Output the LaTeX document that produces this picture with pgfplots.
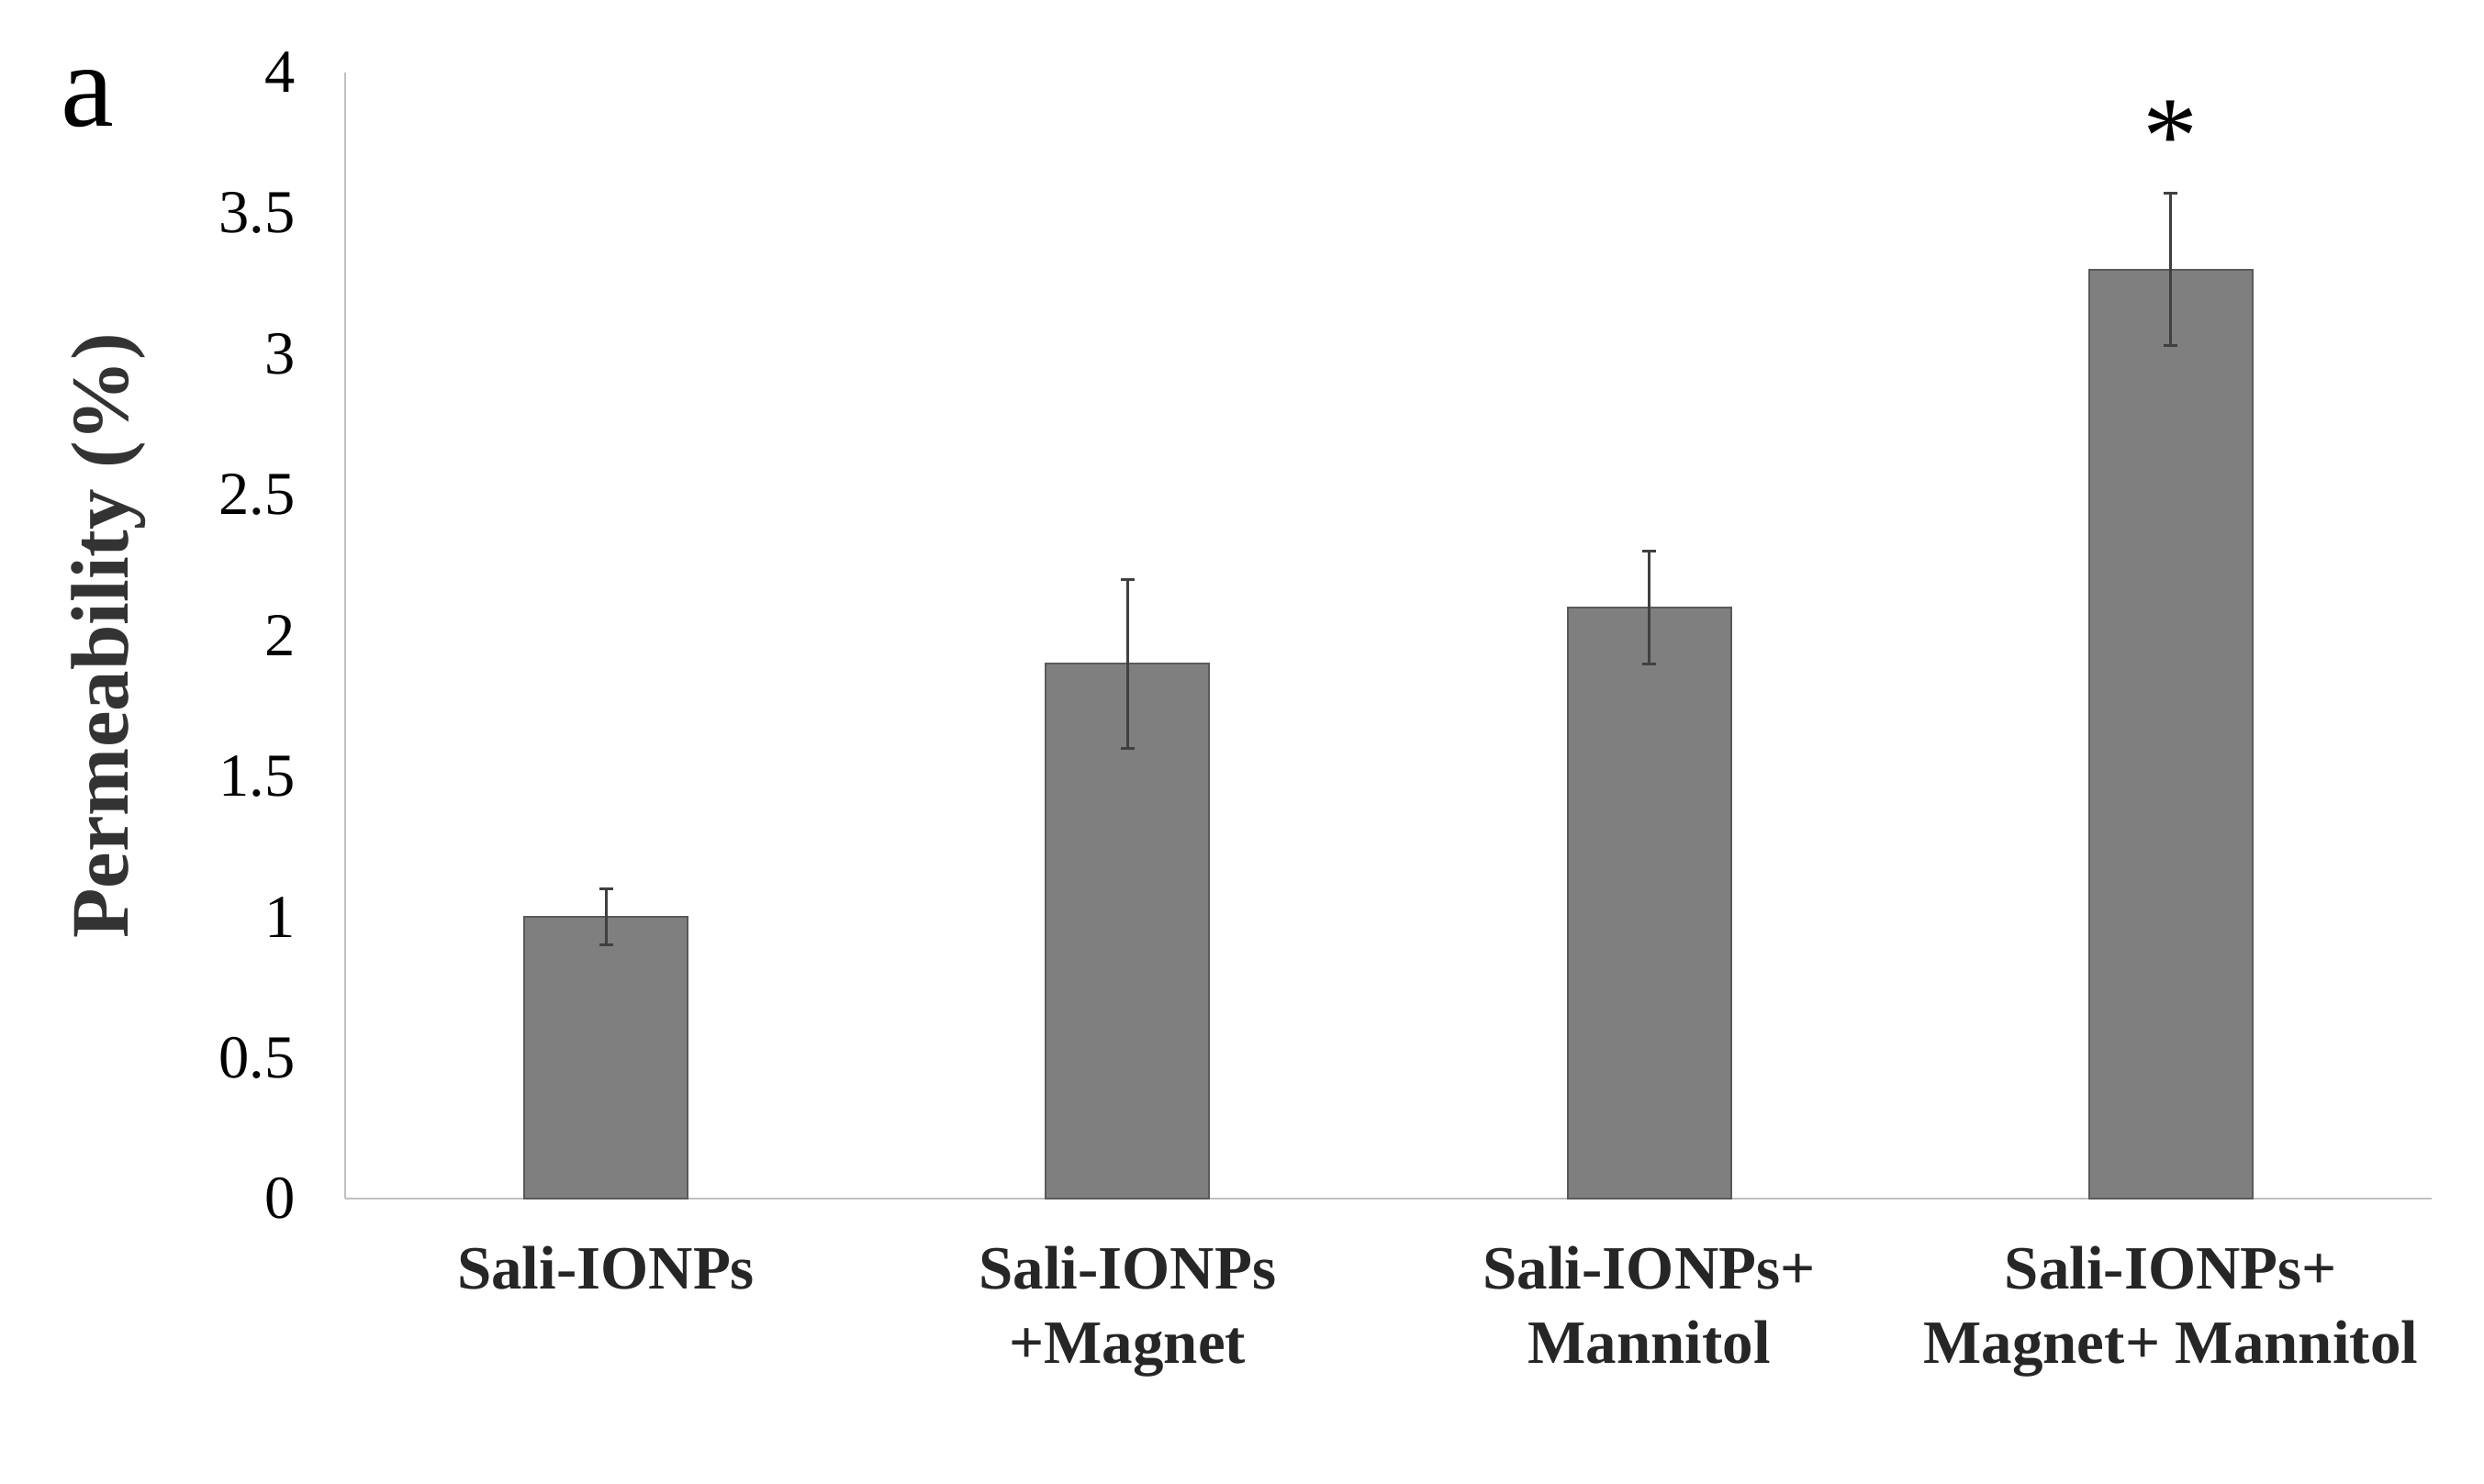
\documentclass[border=0pt]{standalone}
\usepackage{fontspec}
\setmainfont{Liberation Serif}
\usepackage{pgfplots}
\pgfplotsset{compat=1.18}
\usetikzlibrary{calc}

\definecolor{barfill}{HTML}{7F7F7F}
\definecolor{baredge}{HTML}{5A5A5A}
\definecolor{errcol}{HTML}{404040}
\definecolor{axcol}{HTML}{C0C0C0}

\begin{document}
\begin{tikzpicture}
\begin{axis}[
    name=ax,
    scale only axis,
    width=454.6pt, height=245.4pt,
    xmin=-0.5, xmax=3.5,
    ymin=0, ymax=4,
    axis x line*=bottom,
    axis y line*=left,
    axis line style={draw=axcol, line width=0.5pt, -},
    major tick length=0pt,
    xtick={0,1,2,3},
    xticklabels={
        {Sali-IONPs},
        {Sali-IONPs\\+Magnet},
        {Sali-IONPs+\\Mannitol},
        {Sali-IONPs+\\Magnet+ Mannitol}},
    xticklabel style={align=center, anchor=north, yshift=-6.9pt,
        font=\fontsize{13.4}{16.2}\selectfont\bfseries, text=black!85},
    ytick={0,0.5,1,1.5,2,2.5,3,3.5,4},
    yticklabel style={anchor=east, xshift=-7.4pt,
        font=\fontsize{13.3}{16}\selectfont},
    /pgf/number format/assume math mode=true,
    ylabel={Permeability (\%)},
    ylabel style={at={($(axis description cs:0,0.5)+(-40pt,0)$)},
        anchor=south, font=\fontsize{17.8}{20}\selectfont\bfseries, text=black!80},
    ybar,
    bar width=35.6pt,
    clip=false,
]
\addplot[fill=barfill, draw=baredge, line width=0.4pt,
    error bars/.cd, y dir=both, y explicit,
    error bar style={color=errcol, line width=0.6pt},
    error mark options={rotate=90, mark size=1.5pt, line width=0.6pt, color=errcol}]
coordinates {
    (0,1.0) +- (0,0.1)
    (1,1.9) +- (0,0.3)
    (2,2.1) +- (0,0.2)
    (3,3.3) +- (0,0.27)
};
% significance mark
\node[font=\fontsize{24}{24}\selectfont, yshift=-3pt] at (axis cs:3,3.82) {*};
\end{axis}
\node[anchor=base west, inner sep=0pt, font=\fontsize{26}{26}\selectfont]
    at ($(ax.south west)+(-62pt,233.6pt)$) {a};
\pgfresetboundingbox
\path ($(ax.south west)+(-75.2pt,-62.2pt)$) rectangle ($(ax.south west)+(466pt,261.2pt)$);
\end{tikzpicture}
\end{document}
